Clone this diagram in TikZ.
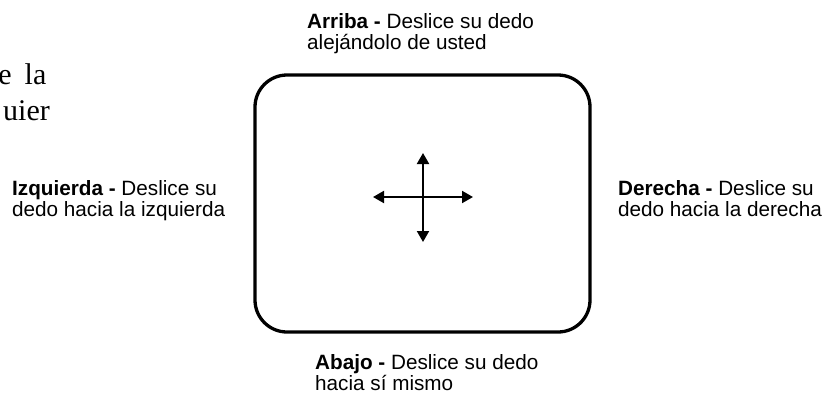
\documentclass[tikz,border=0pt]{standalone}
\usepackage{fontspec}
\setmainfont{Liberation Sans}
\newfontfamily\serifcut{Liberation Serif}
\usetikzlibrary{arrows.meta}
\begin{document}
\begin{tikzpicture}[x=1pt,y=-1pt,
  lbl/.style={anchor=base west,align=left,inner sep=0pt,
    font=\fontsize{20.7pt}{21pt}\selectfont},
  cut/.style={inner sep=0pt,font=\serifcut\fontsize{30pt}{36pt}\selectfont},
  padbox/.style={draw,line width=3.3pt,rounded corners=32pt,
    minimum width=335pt,minimum height=257pt,inner sep=0pt},
  dirarrow/.style={line width=2pt,{Triangle[length=11pt,width=12pt]}-{Triangle[length=11pt,width=12pt]}}]
\useasboundingbox (0,0) rectangle (831,394);
\begin{scope}
\clip (0,0) rectangle (831,394);
\node[cut,anchor=base east] (w1) at (12,84) {de};
\node[cut,anchor=base west] (w2) at (24.5,84) {la};
\node[cut,anchor=base east] (w3) at (50,120) {cualq\kern4pt uier};
\end{scope}
\node[padbox] (pad) at (422.5,203.5) {};
\coordinate (up) at (423,153);
\coordinate (down) at (423,242);
\coordinate (left) at (373,197);
\coordinate (right) at (473,197);
\draw[dirarrow] (up) -- (down);
\draw[dirarrow] (left) -- (right);
\node[lbl] (arriba) at (307,49) {\textbf{Arriba -} Deslice su dedo\\alejándolo de usted};
\node[lbl] (izq) at (12,216) {\textbf{Izquierda -} Deslice su\\dedo hacia la izquierda};
\node[lbl] (der) at (618,216) {\textbf{Derecha -} Deslice su\\dedo hacia la derecha};
\node[lbl] (abajo) at (315,390) {\textbf{Abajo -} Deslice su dedo\\hacia sí mismo};
\end{tikzpicture}
\end{document}
